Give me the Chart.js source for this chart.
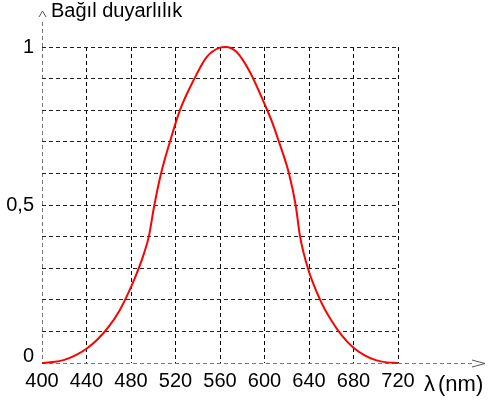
<!DOCTYPE html>
<html>
<head>
<meta charset="utf-8">
<script src="https://cdn.jsdelivr.net/npm/chart.js@4/dist/chart.umd.min.js"></script>
<style>
html, body { margin: 0; padding: 0; background: #fff; }
canvas { display: block; }
</style>
</head>
<body>
<canvas id="chart" width="489" height="406"></canvas>
<script>
// göz duyarlılık eğrisi
var wavelengths = [400, 410, 420, 430, 440, 450, 460, 470, 480, 487, 492, 496, 501, 507, 515, 524, 537, 548, 560, 565, 575, 587, 600, 606, 613, 622, 628, 632, 639, 650, 660, 670, 680, 690, 700, 710, 720];
var sensitivity = [0, 0.003, 0.01, 0.024, 0.045, 0.075, 0.115, 0.168, 0.24, 0.30, 0.35, 0.40, 0.50, 0.60, 0.70, 0.80, 0.90, 0.968, 0.998, 1.0, 0.984, 0.92, 0.82, 0.77, 0.70, 0.60, 0.50, 0.40, 0.30, 0.20, 0.135, 0.085, 0.048, 0.024, 0.009, 0.002, 0];
var xTicks = [400, 440, 480, 520, 560, 600, 640, 680, 720];
var yTickLabels = { "0": "0", "0.5": "0,5", "1": "1" };
var yTitle = "Bağıl duyarlılık";
var xTitle = "λ";
var xUnit = "(nm)";

var FONT = "'Liberation Sans', Arial, sans-serif";

function yLabel(v) {
  var keys = Object.keys(yTickLabels);
  for (var i = 0; i < keys.length; i++) {
    if (Math.abs(Number(keys[i]) - v) < 1e-6) return yTickLabels[keys[i]];
  }
  return "";
}

var axisExtras = {
  id: "axisExtras",
  afterDraw: function(chart) {
    var ctx = chart.ctx;
    var xs = chart.scales.x, ys = chart.scales.y;
    var x0 = Math.round(xs.getPixelForValue(400)) + 0.5;
    var y0 = Math.round(ys.getPixelForValue(0)) + 0.5;
    var yTop = Math.round(ys.getPixelForValue(1));
    var xRight = Math.round(xs.getPixelForValue(720));
    ctx.save();
    ctx.strokeStyle = "#777";
    ctx.lineWidth = 1;
    ctx.setLineDash([4, 3]);
    ctx.beginPath();
    ctx.moveTo(x0, yTop);
    ctx.lineTo(x0, 21);
    ctx.moveTo(xRight, y0);
    ctx.lineTo(472, y0);
    ctx.stroke();
    ctx.setLineDash([]);
    ctx.strokeStyle = "#555";
    ctx.beginPath();
    ctx.moveTo(x0 - 3.5, 17);
    ctx.lineTo(x0, 11);
    ctx.lineTo(x0 + 3.5, 17);
    ctx.moveTo(472, y0 - 3.5);
    ctx.lineTo(485, y0);
    ctx.lineTo(472, y0 + 3.5);
    ctx.stroke();
    ctx.fillStyle = "#000";
    ctx.textBaseline = "alphabetic";
    ctx.textAlign = "left";
    ctx.font = "20px " + FONT;
    ctx.fillText(yTitle, 51, 17);
    ctx.font = "22px " + FONT;
    ctx.fillText(xTitle, 424, 391);
    ctx.fillText(xUnit, 438, 391);
    ctx.restore();
  }
};

var points = wavelengths.map(function(w, i) {
  return { x: w, y: sensitivity[i] };
});

new Chart(document.getElementById("chart").getContext("2d"), {
  type: "line",
  data: {
    datasets: [{
      data: points,
      borderColor: "#ff0000",
      borderWidth: 2,
      pointRadius: 0,
      fill: false,
      cubicInterpolationMode: "monotone",
      clip: false
    }]
  },
  options: {
    responsive: false,
    animation: false,
    layout: { padding: { left: 0, right: 91, top: 47, bottom: 0 } },
    plugins: { legend: { display: false }, tooltip: { enabled: false } },
    scales: {
      x: {
        type: "linear",
        min: 400,
        max: 720,
        afterBuildTicks: function(scale) {
          scale.ticks = xTicks.map(function(v) { return { value: v }; });
        },
        afterFit: function(scale) { scale.height = 43; },
        ticks: {
          color: "#000",
          font: { family: FONT, size: 20 },
          padding: 6,
          maxRotation: 0,
          autoSkip: false
        },
        grid: {
          drawTicks: false,
          color: function(c) { return c.tick && c.tick.value === 400 ? "#777" : "#000"; },
          lineWidth: 1,
          borderDash: [4, 3]
        },
        border: { display: false, dash: [4, 3] }
      },
      y: {
        type: "linear",
        min: 0,
        max: 1,
        afterFit: function(scale) { scale.width = 42; },
        ticks: {
          stepSize: 0.1,
          color: "#000",
          padding: 8,
          font: function(c) {
            if (c.tick && Math.abs(c.tick.value) < 1e-6) return { family: FONT, size: 20, lineHeight: 0.67 };
            return { family: FONT, size: 20 };
          },
          callback: function(v) {
            if (Math.abs(v) < 1e-6) return ["0", ""];
            return yLabel(v);
          }
        },
        grid: {
          drawTicks: false,
          color: function(c) { return c.tick && Math.abs(c.tick.value) < 1e-6 ? "#777" : "#222"; },
          lineWidth: 1,
          borderDash: [4, 3]
        },
        border: { display: false, dash: [4, 3] }
      }
    }
  },
  plugins: [axisExtras]
});
</script>
</body>
</html>
